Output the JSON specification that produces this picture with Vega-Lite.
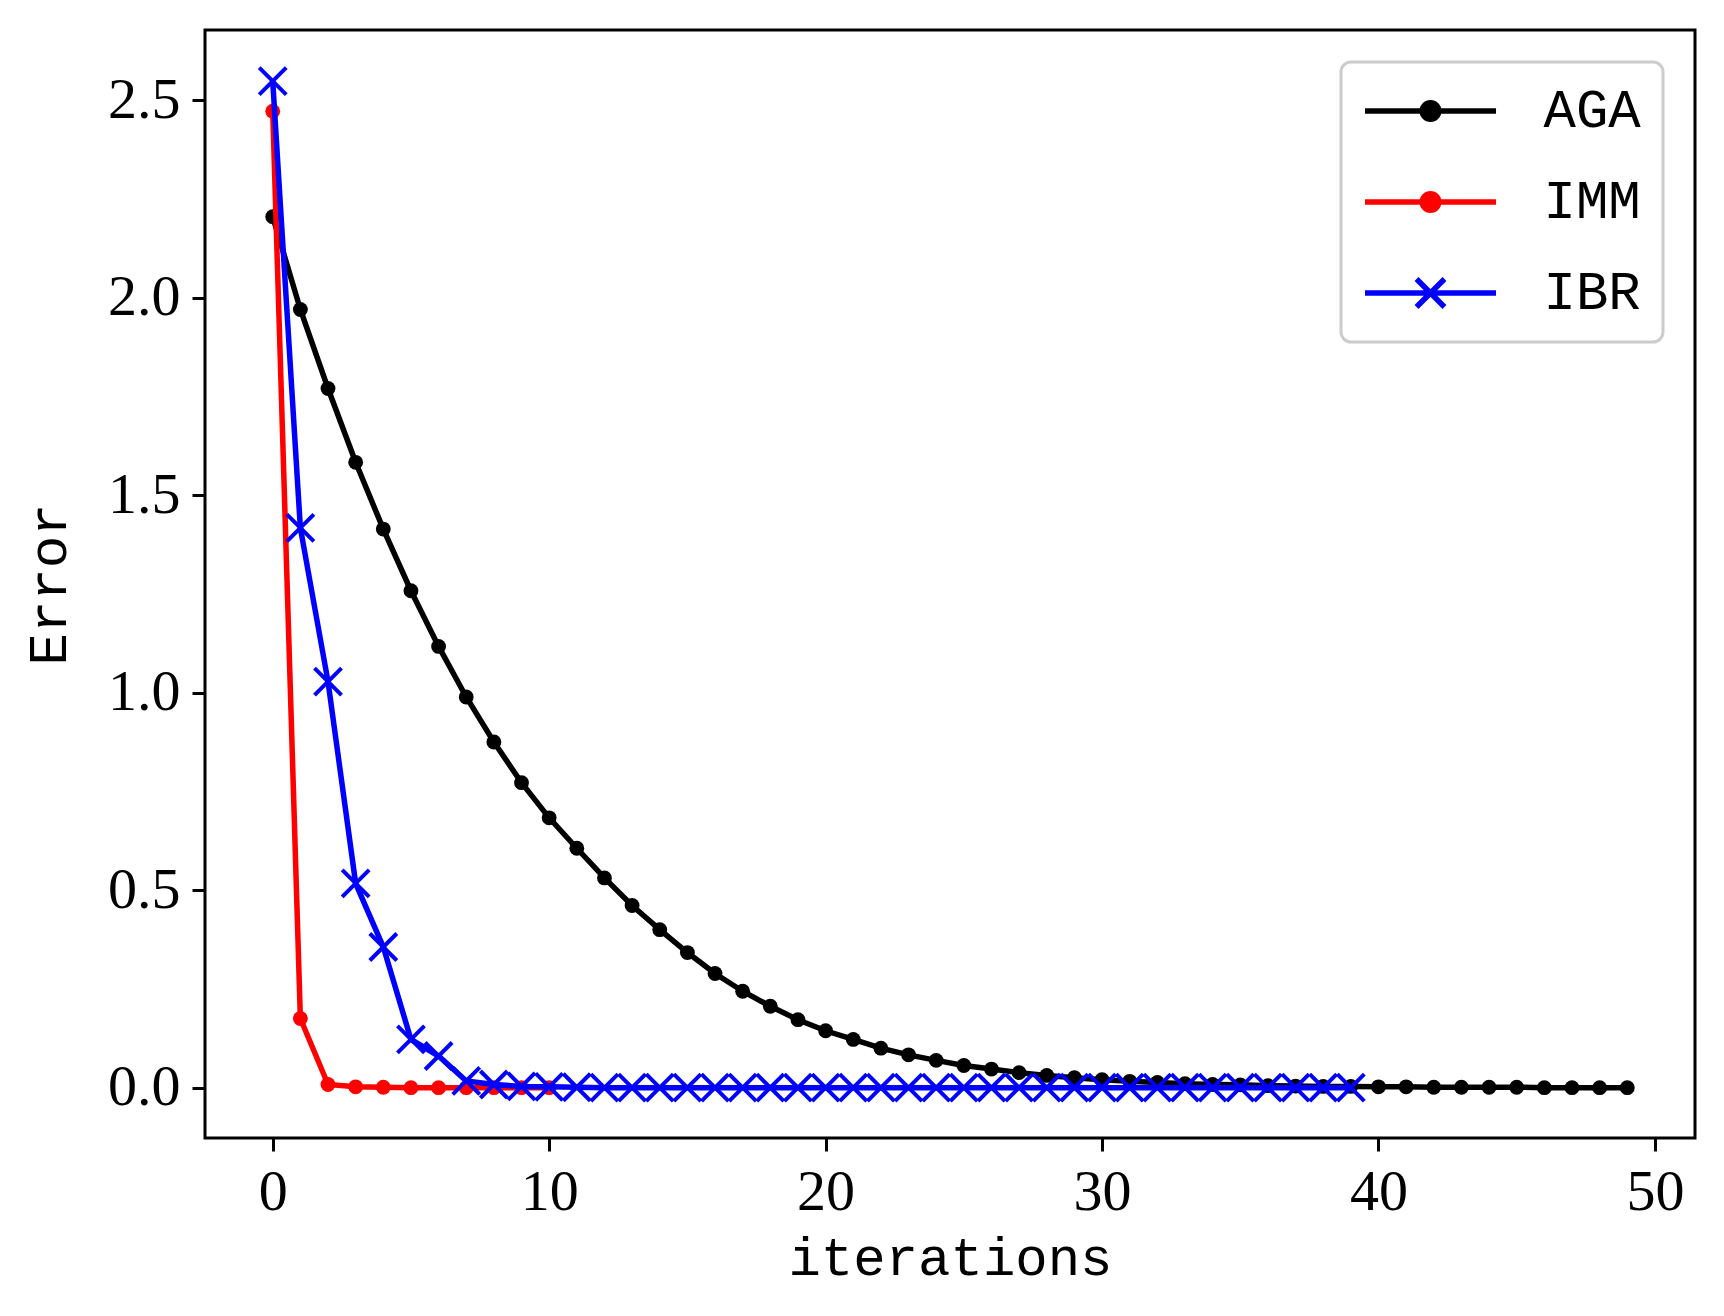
{
  "$schema": "https://vega.github.io/schema/vega-lite/v6.json",
  "autosize": "none",
  "width": 1490,
  "height": 1108,
  "padding": {"left": 205, "top": 30, "right": 29, "bottom": 178},
  "background": "white",
  "config": {
    "view": {"stroke": "black", "strokeWidth": 3},
    "axis": {
      "grid": false,
      "domain": false,
      "tickColor": "black",
      "tickWidth": 3,
      "tickSize": 13,
      "labelColor": "black",
      "labelFont": "Liberation Serif",
      "labelFontSize": 58,
      "titleColor": "black",
      "titleFont": "Liberation Mono",
      "titleFontSize": 54,
      "titleFontWeight": "normal"
    }
  },
  "data": {
    "values": [
      {"it": 0, "err": 2.205, "method": "AGA"},
      {"it": 1, "err": 1.97, "method": "AGA"},
      {"it": 2, "err": 1.77, "method": "AGA"},
      {"it": 3, "err": 1.583, "method": "AGA"},
      {"it": 4, "err": 1.414, "method": "AGA"},
      {"it": 5, "err": 1.258, "method": "AGA"},
      {"it": 6, "err": 1.117, "method": "AGA"},
      {"it": 7, "err": 0.989, "method": "AGA"},
      {"it": 8, "err": 0.875, "method": "AGA"},
      {"it": 9, "err": 0.772, "method": "AGA"},
      {"it": 10, "err": 0.683, "method": "AGA"},
      {"it": 11, "err": 0.606, "method": "AGA"},
      {"it": 12, "err": 0.531, "method": "AGA"},
      {"it": 13, "err": 0.461, "method": "AGA"},
      {"it": 14, "err": 0.4, "method": "AGA"},
      {"it": 15, "err": 0.342, "method": "AGA"},
      {"it": 16, "err": 0.289, "method": "AGA"},
      {"it": 17, "err": 0.244, "method": "AGA"},
      {"it": 18, "err": 0.206, "method": "AGA"},
      {"it": 19, "err": 0.172, "method": "AGA"},
      {"it": 20, "err": 0.144, "method": "AGA"},
      {"it": 21, "err": 0.122, "method": "AGA"},
      {"it": 22, "err": 0.1, "method": "AGA"},
      {"it": 23, "err": 0.083, "method": "AGA"},
      {"it": 24, "err": 0.069, "method": "AGA"},
      {"it": 25, "err": 0.056, "method": "AGA"},
      {"it": 26, "err": 0.047, "method": "AGA"},
      {"it": 27, "err": 0.038, "method": "AGA"},
      {"it": 28, "err": 0.031, "method": "AGA"},
      {"it": 29, "err": 0.025, "method": "AGA"},
      {"it": 30, "err": 0.02, "method": "AGA"},
      {"it": 31, "err": 0.016, "method": "AGA"},
      {"it": 32, "err": 0.013, "method": "AGA"},
      {"it": 33, "err": 0.01, "method": "AGA"},
      {"it": 34, "err": 0.008, "method": "AGA"},
      {"it": 35, "err": 0.007, "method": "AGA"},
      {"it": 36, "err": 0.005, "method": "AGA"},
      {"it": 37, "err": 0.004, "method": "AGA"},
      {"it": 38, "err": 0.003, "method": "AGA"},
      {"it": 39, "err": 0.003, "method": "AGA"},
      {"it": 40, "err": 0.002, "method": "AGA"},
      {"it": 41, "err": 0.002, "method": "AGA"},
      {"it": 42, "err": 0.001, "method": "AGA"},
      {"it": 43, "err": 0.001, "method": "AGA"},
      {"it": 44, "err": 0.001, "method": "AGA"},
      {"it": 45, "err": 0.001, "method": "AGA"},
      {"it": 46, "err": 0.0, "method": "AGA"},
      {"it": 47, "err": 0.0, "method": "AGA"},
      {"it": 48, "err": 0.0, "method": "AGA"},
      {"it": 49, "err": 0.0, "method": "AGA"},
      {"it": 0, "err": 2.472, "method": "IMM"},
      {"it": 1, "err": 0.175, "method": "IMM"},
      {"it": 2, "err": 0.008, "method": "IMM"},
      {"it": 3, "err": 0.002, "method": "IMM"},
      {"it": 4, "err": 0.001, "method": "IMM"},
      {"it": 5, "err": 0.0, "method": "IMM"},
      {"it": 6, "err": 0.0, "method": "IMM"},
      {"it": 7, "err": 0.0, "method": "IMM"},
      {"it": 8, "err": 0.0, "method": "IMM"},
      {"it": 9, "err": 0.0, "method": "IMM"},
      {"it": 10, "err": 0.0, "method": "IMM"},
      {"it": 0, "err": 2.548, "method": "IBR"},
      {"it": 1, "err": 1.417, "method": "IBR"},
      {"it": 2, "err": 1.028, "method": "IBR"},
      {"it": 3, "err": 0.517, "method": "IBR"},
      {"it": 4, "err": 0.356, "method": "IBR"},
      {"it": 5, "err": 0.122, "method": "IBR"},
      {"it": 6, "err": 0.08, "method": "IBR"},
      {"it": 7, "err": 0.017, "method": "IBR"},
      {"it": 8, "err": 0.008, "method": "IBR"},
      {"it": 9, "err": 0.003, "method": "IBR"},
      {"it": 10, "err": 0.002, "method": "IBR"},
      {"it": 11, "err": 0.001, "method": "IBR"},
      {"it": 12, "err": 0.0, "method": "IBR"},
      {"it": 13, "err": 0.0, "method": "IBR"},
      {"it": 14, "err": 0.0, "method": "IBR"},
      {"it": 15, "err": 0.0, "method": "IBR"},
      {"it": 16, "err": 0.0, "method": "IBR"},
      {"it": 17, "err": 0.0, "method": "IBR"},
      {"it": 18, "err": 0.0, "method": "IBR"},
      {"it": 19, "err": 0.0, "method": "IBR"},
      {"it": 20, "err": 0.0, "method": "IBR"},
      {"it": 21, "err": 0.0, "method": "IBR"},
      {"it": 22, "err": 0.0, "method": "IBR"},
      {"it": 23, "err": 0.0, "method": "IBR"},
      {"it": 24, "err": 0.0, "method": "IBR"},
      {"it": 25, "err": 0.0, "method": "IBR"},
      {"it": 26, "err": 0.0, "method": "IBR"},
      {"it": 27, "err": 0.0, "method": "IBR"},
      {"it": 28, "err": 0.0, "method": "IBR"},
      {"it": 29, "err": 0.0, "method": "IBR"},
      {"it": 30, "err": 0.0, "method": "IBR"},
      {"it": 31, "err": 0.0, "method": "IBR"},
      {"it": 32, "err": 0.0, "method": "IBR"},
      {"it": 33, "err": 0.0, "method": "IBR"},
      {"it": 34, "err": 0.0, "method": "IBR"},
      {"it": 35, "err": 0.0, "method": "IBR"},
      {"it": 36, "err": 0.0, "method": "IBR"},
      {"it": 37, "err": 0.0, "method": "IBR"},
      {"it": 38, "err": 0.0, "method": "IBR"},
      {"it": 39, "err": 0.0, "method": "IBR"}
    ]
  },
  "encoding": {
    "x": {
      "field": "it",
      "type": "quantitative",
      "scale": {"domain": [-2.45, 51.45], "nice": false, "zero": false},
      "axis": {"values": [0, 10, 20, 30, 40, 50], "title": "iterations", "labelPadding": 12, "titlePadding": 10}
    },
    "y": {
      "field": "err",
      "type": "quantitative",
      "scale": {"domain": [-0.1275, 2.6775], "nice": false, "zero": false},
      "axis": {"values": [0, 0.5, 1, 1.5, 2, 2.5], "format": ".1f", "title": "Error", "labelPadding": 12, "titlePadding": 31}
    },
    "color": {
      "field": "method",
      "type": "nominal",
      "scale": {"domain": ["AGA", "IMM", "IBR"], "range": ["#000000", "#ff0000", "#0000ff"]},
      "legend": null
    }
  },
  "layer": [
    {
      "transform": [{"filter": "datum.method === 'AGA'"}],
      "mark": {"type": "line", "strokeWidth": 5.5},
      "encoding": {
        "color": {
          "field": "method",
          "type": "nominal",
          "scale": {"domain": ["AGA", "IMM", "IBR"], "range": ["#000000", "#ff0000", "#0000ff"]},
          "legend": {
            "title": null,
            "orient": "none",
            "legendX": 1136,
            "legendY": 32,
            "padding": 22,
            "cornerRadius": 10,
            "strokeColor": "#cccccc",
            "fillColor": "rgba(255,255,255,0.8)",
            "symbolSize": 1908,
            "symbolOffset": 40.5,
            "symbolStrokeWidth": 5.5,
            "symbolOpacity": 1,
            "labelFont": "Liberation Mono",
            "labelFontSize": 54,
            "labelColor": "black",
            "labelOffset": 86,
            "rowPadding": 37,
            "encode": {
              "legend": {"update": {"strokeWidth": {"value": 3}}},
              "symbols": {
                "update": {
                  "shape": {"signal": "datum.value === 'IBR' ? 'M-3,0H3M-0.64,-0.64L0.64,0.64M-0.64,0.64L0.64,-0.64' : 'M-3,0H3M0.38,0A0.38,0.38,0,1,1,-0.38,0A0.38,0.38,0,1,1,0.38,0Z'"},
                  "fill": {"signal": "datum.value === 'AGA' ? '#000000' : datum.value === 'IMM' ? '#ff0000' : '#0000ff'"},
                  "stroke": {"signal": "datum.value === 'AGA' ? '#000000' : datum.value === 'IMM' ? '#ff0000' : '#0000ff'"},
                  "strokeWidth": {"value": 5.5}
                }
              }
            }
          }
        }
      }
    },
    {
      "transform": [{"filter": "datum.method === 'AGA'"}],
      "mark": {"type": "point", "filled": true, "shape": "circle", "size": 220, "opacity": 1}
    },
    {
      "transform": [{"filter": "datum.method === 'IMM'"}],
      "mark": {"type": "line", "strokeWidth": 5.5}
    },
    {
      "transform": [{"filter": "datum.method === 'IMM'"}],
      "mark": {"type": "point", "filled": true, "shape": "circle", "size": 220, "opacity": 1}
    },
    {
      "transform": [{"filter": "datum.method === 'IBR'"}],
      "mark": {"type": "line", "strokeWidth": 5.5}
    },
    {
      "transform": [{"filter": "datum.method === 'IBR'"}],
      "mark": {"type": "point", "filled": false, "shape": "M-1,-1L1,1M-1,1L1,-1", "size": 729, "strokeWidth": 4, "opacity": 1}
    }
  ]
}
